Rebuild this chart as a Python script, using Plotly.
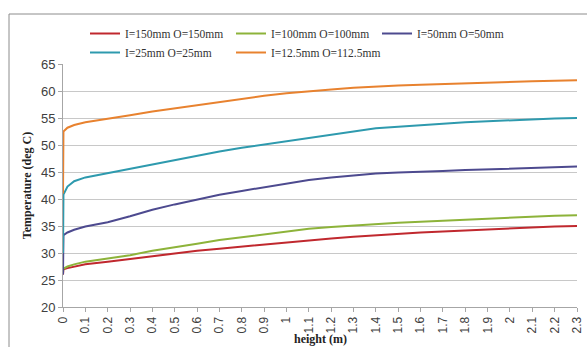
import plotly.graph_objects as go

# Height along the column (m)
height = [0, 0.002, 0.02, 0.05, 0.1, 0.2, 0.3, 0.4, 0.5, 0.6, 0.7, 0.8, 0.9, 1.0,
          1.1, 1.2, 1.3, 1.4, 1.5, 1.6, 1.7, 1.8, 1.9, 2.0, 2.1, 2.2, 2.3]

# Temperature profiles (deg C) for each inlet/outlet configuration
t_150 = [26.0, 27.0, 27.2, 27.5, 27.9, 28.4, 28.9, 29.5, 30.0, 30.4, 30.8, 31.2, 31.6, 32.0,
         32.4, 32.7, 33.0, 33.3, 33.5, 33.8, 34.0, 34.2, 34.4, 34.6, 34.75, 34.9, 35.0]
t_100 = [26.5, 27.1, 27.5, 27.9, 28.4, 29.0, 29.6, 30.4, 31.0, 31.7, 32.4, 32.9, 33.5, 34.0,
         34.5, 34.8, 35.1, 35.4, 35.6, 35.8, 36.0, 36.2, 36.4, 36.6, 36.75, 36.9, 37.0]
t_50 = [26.0, 33.3, 33.8, 34.3, 34.9, 35.7, 36.8, 38.0, 39.0, 39.9, 40.8, 41.5, 42.2, 42.9,
        43.5, 44.0, 44.4, 44.7, 44.9, 45.1, 45.2, 45.35, 45.5, 45.6, 45.75, 45.9, 46.0]
t_25 = [30.0, 40.8, 42.3, 43.3, 44.0, 44.8, 45.7, 46.5, 47.3, 48.1, 48.8, 49.5, 50.1, 50.8,
        51.4, 52.0, 52.6, 53.1, 53.4, 53.7, 54.0, 54.2, 54.4, 54.6, 54.75, 54.9, 55.0]
t_12 = [41.0, 52.5, 53.2, 53.7, 54.2, 54.8, 55.5, 56.2, 56.8, 57.4, 58.0, 58.6, 59.1, 59.6,
        60.0, 60.3, 60.6, 60.85, 61.0, 61.15, 61.3, 61.45, 61.6, 61.7, 61.8, 61.9, 62.0]

series_names = ["I=150mm O=150mm", "I=100mm O=100mm", "I=50mm O=50mm",
                "I=25mm O=25mm", "I=12.5mm O=112.5mm"]
series_values = [t_150, t_100, t_50, t_25, t_12]
series_colors = ["#C0282E", "#8DB33A", "#4D4A8F", "#2E9AAE", "#E8822F"]

x_ticks = [round(i * 0.1, 1) for i in range(24)]
x_tick_text = [f"{v:g}" for v in x_ticks]

fig = go.Figure()
for name, vals, col in zip(series_names, series_values, series_colors):
    fig.add_trace(go.Scatter(x=height, y=vals, mode="lines", name=name,
                             line=dict(color=col, width=2)))

W, H = 587, 347
L, R, T, B = 63, 10, 64, 40
pw, ph = W - L - R, H - T - B

fig.update_layout(
    width=W, height=H,
    margin=dict(l=L, r=R, t=T, b=B, autoexpand=False),
    paper_bgcolor="white", plot_bgcolor="white",
    showlegend=True,
    legend=dict(orientation="h", x=(85 - L) / pw, xanchor="left",
                y=1 + (T - 19) / ph, yanchor="top",
                font=dict(family="Liberation Serif", size=11.5, color="#333333"),
                entrywidth=101, entrywidthmode="pixels",
                itemwidth=30, bgcolor="rgba(0,0,0,0)", tracegroupgap=0),
    xaxis=dict(range=[0, 2.3], tickmode="array", tickvals=x_ticks, ticktext=x_tick_text,
               tickangle=-90, showgrid=False, zeroline=False, automargin=False,
               showline=True, linecolor="#A6A6A6", linewidth=1,
               ticks="outside", ticklen=4, tickcolor="#A6A6A6",
               tickfont=dict(family="Liberation Sans Narrow, Liberation Sans", size=12, color="#404040")),
    yaxis=dict(range=[20, 65], dtick=5, showgrid=True, gridcolor="#C8C8C8", gridwidth=1,
               zeroline=False, showline=True, linecolor="#A6A6A6", linewidth=1, automargin=False,
               ticks="outside", ticklen=4, tickcolor="#A6A6A6",
               tickfont=dict(family="Liberation Sans Narrow, Liberation Sans", size=13, color="#404040"),
               title=dict(text="<b>Temperature (deg C)</b>", standoff=6,
                          font=dict(family="Liberation Serif", size=12, color="#222222"))),
    annotations=[dict(text="<b>height (m)</b>", xref="paper", yref="paper",
                      x=(320 - L) / pw, y=-(339 - T - ph) / ph, xanchor="center", yanchor="middle",
                      showarrow=False,
                      font=dict(family="Liberation Serif", size=12, color="#222222"))],
    shapes=[dict(type="rect", xref="paper", yref="paper",
                 x0=(9 - L) / pw, x1=1.06, y0=-0.3, y1=1 + (T - 14) / ph,
                 line=dict(color="#8C8C8C", width=1), fillcolor="rgba(0,0,0,0)", layer="below")],
)

fig.write_html("out.html")
